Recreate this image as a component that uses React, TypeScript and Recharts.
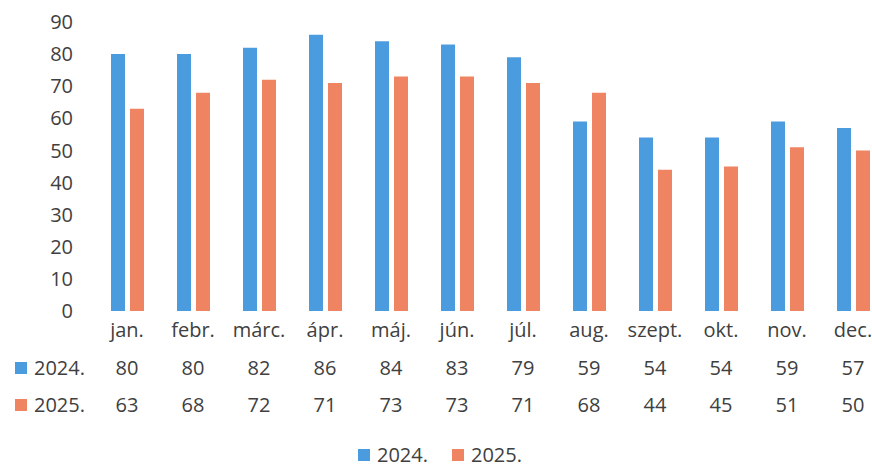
import React from "react";
import { BarChart, Bar, XAxis, YAxis, Legend } from "recharts";

const months = ["jan.", "febr.", "márc.", "ápr.", "máj.", "jún.", "júl.", "aug.", "szept.", "okt.", "nov.", "dec."];
const values2024 = [80, 80, 82, 86, 84, 83, 79, 59, 54, 54, 59, 57];
const values2025 = [63, 68, 72, 71, 73, 73, 71, 68, 44, 45, 51, 50];
const yTicks = [0, 10, 20, 30, 40, 50, 60, 70, 80, 90];

const BLUE = "#4B9CDE";
const ORANGE = "#EF8462";
const TEXT = "#404040";
const FONT = "'Open Sans', sans-serif";

const data = months.map((m, i) => ({ month: m, y2024: values2024[i], y2025: values2025[i] }));

// month label plus the two data-table rows under it
function TableTick(props: any) {
  const { x, y, payload, index } = props;
  const row = data[index];
  return (
    <g fontFamily={FONT} fontSize={20} fill={TEXT}>
      <text x={x} y={y + 26} textAnchor="middle" fill={TEXT}>{payload.value}</text>
      <text x={x} y={y + 64} textAnchor="middle" fill={TEXT}>{row.y2024}</text>
      <text x={x} y={y + 101} textAnchor="middle" fill={TEXT}>{row.y2025}</text>
      {index === 0 && (
        <g>
          <rect x={x - 112} y={y + 51} width={12} height={12} fill={BLUE} />
          <text x={x - 93} y={y + 64} textAnchor="start" fill={TEXT}>2024.</text>
          <rect x={x - 112} y={y + 88} width={12} height={12} fill={ORANGE} />
          <text x={x - 93} y={y + 101} textAnchor="start" fill={TEXT}>2025.</text>
        </g>
      )}
    </g>
  );
}

function LegendContent(props: any) {
  const { payload } = props;
  return (
    <div style={{ display: "flex", alignItems: "center", height: 26, fontFamily: FONT, fontSize: 20, color: TEXT }}>
      {payload.map((p: any) => (
        <div key={p.value} style={{ display: "flex", alignItems: "center", marginRight: 24 }}>
          <span style={{ width: 12, height: 12, background: p.color, display: "inline-block", marginRight: 7 }} />
          <span style={{ lineHeight: "26px", whiteSpace: "nowrap" }}>{p.value}</span>
        </div>
      ))}
    </div>
  );
}

export default function App() {
  return (
    <div style={{ position: "absolute", left: 0, top: 0, width: 872, height: 471, overflow: "hidden", background: "#fff" }}>
      <BarChart
        width={900}
        height={471}
        data={data}
        margin={{ top: 22, right: 14, bottom: 3, left: 0 }}
        barSize={14}
        barGap={5}
      >
        <YAxis
          domain={[0, 90]}
          ticks={yTicks}
          width={94}
          axisLine={false}
          tickLine={false}
          tickMargin={15}
          tick={{ fill: TEXT, fontSize: 20, fontFamily: FONT }}
        />
        <XAxis
          dataKey="month"
          height={131}
          axisLine={false}
          tickLine={false}
          tickSize={0}
          tickMargin={0}
          interval={0}
          tick={<TableTick />}
        />
        <Legend
          verticalAlign="bottom"
          align="left"
          content={<LegendContent />}
          wrapperStyle={{ left: 358, width: "auto" }}
        />
        <Bar dataKey="y2024" name="2024." fill={BLUE} isAnimationActive={false} />
        <Bar dataKey="y2025" name="2025." fill={ORANGE} isAnimationActive={false} />
      </BarChart>
    </div>
  );
}
